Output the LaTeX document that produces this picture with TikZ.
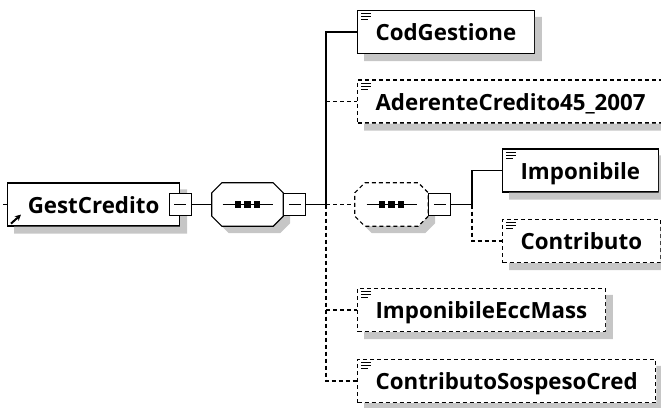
\documentclass[tikz,border=0pt]{standalone}
\usepackage{fontspec}
\setmainfont{Open Sans}
\usetikzlibrary{positioning, arrows.meta}
\definecolor{shadowgray}{RGB}{198,198,198}

% octagon round a node, shifted by (#2,#3)
\newcommand{\octpath}[3]{([xshift=#2+10pt, yshift=#3]#1.north west) -- ([xshift=#2-10pt, yshift=#3]#1.north east)
	-- ([xshift=#2, yshift=#3-10pt]#1.north east) -- ([xshift=#2, yshift=#3+10pt]#1.south east)
	-- ([xshift=#2-10pt, yshift=#3]#1.south east) -- ([xshift=#2+10pt, yshift=#3]#1.south west)
	-- ([xshift=#2, yshift=#3+10pt]#1.south west) -- ([xshift=#2, yshift=#3-10pt]#1.north west) -- cycle}

\tikzset{
	shadefill/.style={fill=shadowgray},
	optline/.style={dash pattern=on 4pt off 3pt},
	elem/.style={draw, fill=white, line width=1.2pt, inner xsep=18pt, inner ysep=0pt, minimum height=43pt,
		text height=17pt, text depth=0pt, font=\fontsize{22.3}{26}\selectfont\bfseries, anchor=west},
	optelem/.style={elem, optline},
	seqbox/.style={minimum width=71pt, minimum height=43pt, inner sep=0pt},
	octagon/.style={draw, fill=white, line width=1.2pt},
	minus/.style={draw, fill=white, line width=1.2pt, minimum size=22pt, inner sep=0pt},
	wire/.style={line width=1.2pt},
	optwire/.style={wire, optline}
}

\begin{document}
\begin{tikzpicture}[x=1pt, y=-1pt]
	\useasboundingbox (0,0) rectangle (661,407);
	% Elements:
	\node[elem, minimum width=172pt] (gc) at (7, 204.5){GestCredito};
	\node[elem] (cod) at (357, 32){CodGestione};
	\node[optelem] (ader) at (357, 101.5){AderenteCredito45\_2007};
	\node[elem] (imp) at (502, 170.5){Imponibile};
	\node[optelem] (contr) at (502, 241){Contributo};
	\node[optelem] (iem) at (357, 310){ImponibileEccMass};
	\node[optelem] (csc) at (357, 381){ContributoSospesoCred};
	\node[seqbox] (seq) at (247.5, 204.5){};
	\node[seqbox, minimum width=73pt] (seqtwo) at (391.5, 204.5){};
	% Shadows:
	\foreach \n in {gc, cod, ader, imp, contr, iem, csc}
		\fill[shadefill] ([yshift=-7pt]\n.north east) rectangle ([xshift=7pt, yshift=-7pt]\n.south east)
			([xshift=7pt]\n.south west) rectangle ([xshift=7pt, yshift=-7pt]\n.south east);
	% Sequences:
	\foreach \s/\st in {seq/solid, seqtwo/optline}{
		\fill[shadefill] \octpath{\s}{7pt}{-7pt};
		\draw[octagon, \st] \octpath{\s}{0pt}{0pt};
		\draw[wire] ([xshift=-25pt]\s.center) -- ([xshift=25pt]\s.center);
		\foreach \dx in {-9.5, 0, 9.5}
			\fill ([xshift=\dx pt]\s.center) +(-3.3,-3.3) rectangle +(3.3,3.3);
	}
	\node[minus] (gcm) at (gc.east){};
	\node[minus, anchor=west] (seqm) at (seq.east){};
	\node[minus, anchor=west] (seqtwom) at (seqtwo.east){};
	\foreach \m in {gcm, seqm, seqtwom}
		\draw[line width=1pt] ([xshift=-6pt]\m.center) -- ([xshift=6pt]\m.center);
	\coordinate (in) at (3, 204.5);
	\coordinate (trunk) at (326, 204.5);
	\coordinate (sub) at (472, 204.5);
	% Icons:
	\draw[line width=2pt, -{Stealth[length=6pt, width=6pt]}] ([xshift=4pt, yshift=3pt]gc.south west) -- ++(10,-9);
	\foreach \n in {cod, ader, imp, contr, iem, csc}{
		\draw[line width=0.9pt] ([xshift=4pt, yshift=-4pt]\n.north west) -- ++(10,0);
		\draw[line width=0.9pt] ([xshift=4pt, yshift=-7pt]\n.north west) -- ++(10,0);
		\draw[line width=0.9pt] ([xshift=4pt, yshift=-10pt]\n.north west) -- ++(7,0);
	}
	% Wires:
	\draw[wire] (in) -- (gc.west);
	\draw[wire] (gcm.east) -- (seq.west);
	\draw[wire] (seqm.east) -- (trunk);
	\draw[wire] (trunk) |- (cod.west);
	\draw[optwire] (trunk |- ader.west) -- (ader.west);
	\draw[optwire] (trunk) -- (seqtwo.west);
	\draw[optwire] (trunk |- iem.west) -- (iem.west);
	\draw[optwire] (trunk) |- (csc.west);
	\draw[wire] (seqtwom.east) -- (sub) |- (imp.west);
	\draw[optwire] (sub) |- (contr.west);
\end{tikzpicture}
\end{document}
